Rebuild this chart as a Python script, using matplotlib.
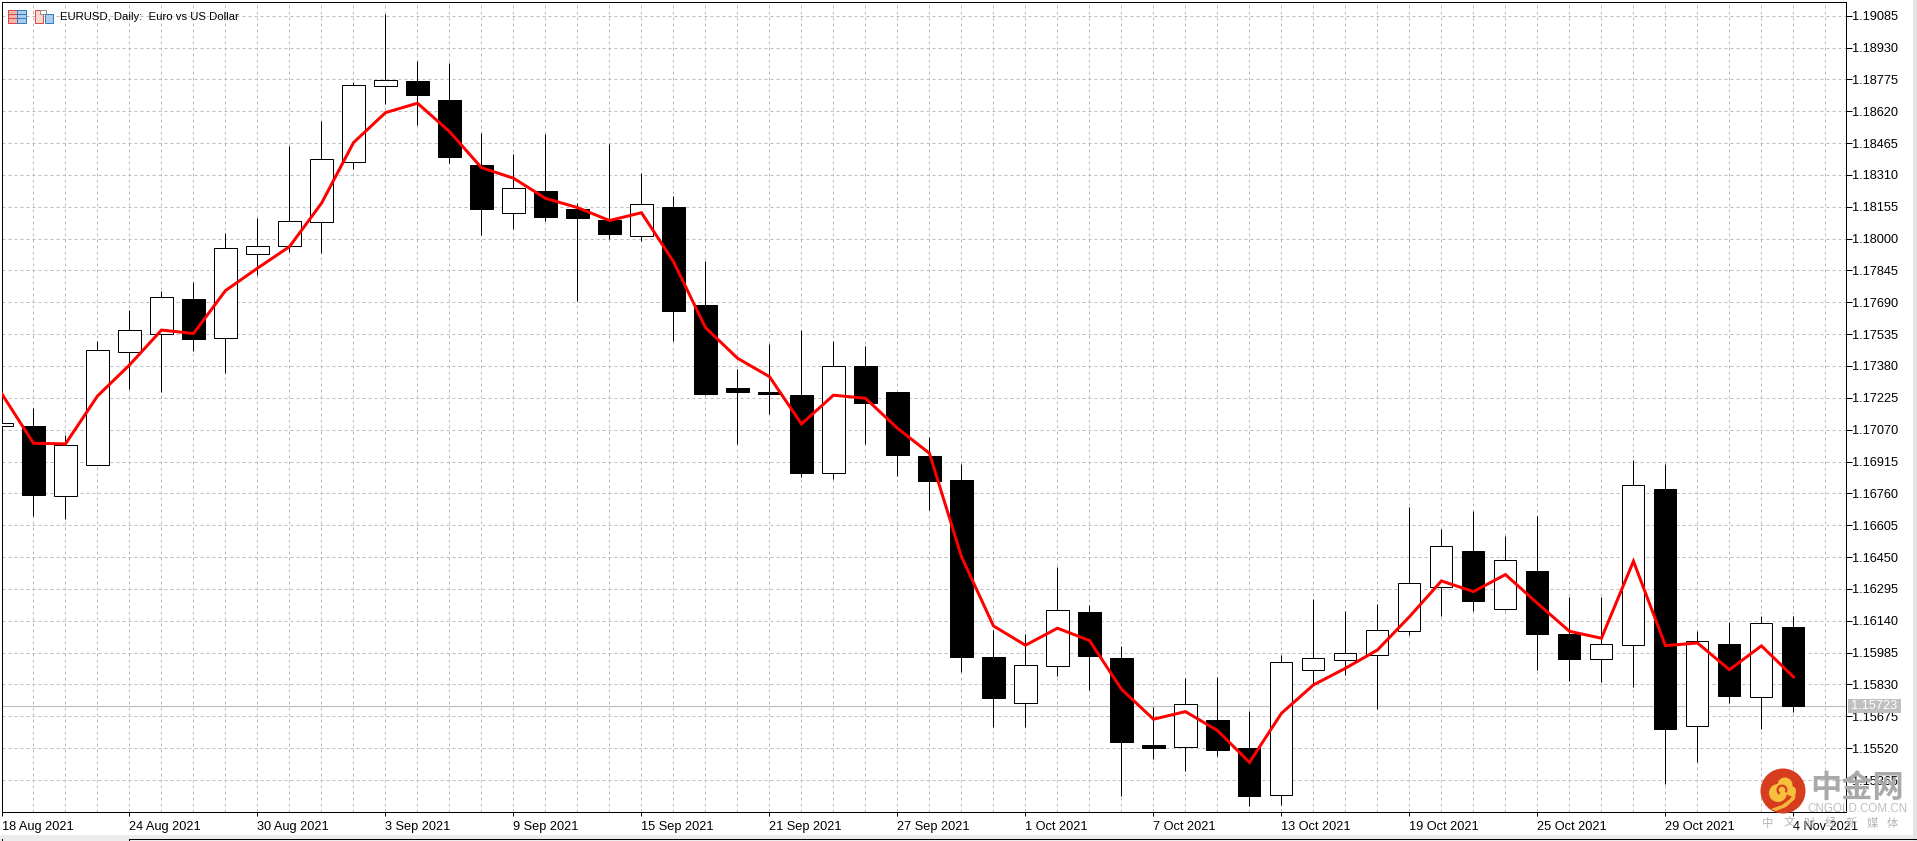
import matplotlib
matplotlib.use('Agg')
import matplotlib.pyplot as plt
from matplotlib.patches import Circle, Polygon, Rectangle, Wedge

WIDTH = 1917
HEIGHT = 841
PX = 0.72  # one pixel in points at dpi 100

tick_prices = [1.19085, 1.18930, 1.18775, 1.18620, 1.18465, 1.18310, 1.18155, 1.18000,
               1.17845, 1.17690, 1.17535, 1.17380, 1.17225, 1.17070, 1.16915, 1.16760,
               1.16605, 1.16450, 1.16295, 1.16140, 1.15985, 1.15830, 1.15675, 1.15520, 1.15365]

date_labels = ['18 Aug 2021', '24 Aug 2021', '30 Aug 2021', '3 Sep 2021', '9 Sep 2021',
               '15 Sep 2021', '21 Sep 2021', '27 Sep 2021', '1 Oct 2021', '7 Oct 2021',
               '13 Oct 2021', '19 Oct 2021', '25 Oct 2021', '29 Oct 2021', '4 Nov 2021']

opens = [1.17087, 1.17088, 1.16749, 1.16897, 1.17447, 1.17534, 1.17706, 1.17515, 1.17924, 1.17963,
         1.18079, 1.18371, 1.18741, 1.18767, 1.18675, 1.18358, 1.18123, 1.18232, 1.18144, 1.18091,
         1.18011, 1.18154, 1.17677, 1.17273, 1.17254, 1.17239, 1.16858, 1.17380, 1.17254, 1.16942,
         1.16825, 1.15964, 1.15739, 1.15919, 1.16183, 1.15959, 1.15536, 1.15524, 1.15657, 1.15520,
         1.15291, 1.15899, 1.15948, 1.15972, 1.16089, 1.16303, 1.16480, 1.16196, 1.16383, 1.16076,
         1.15953, 1.16021, 1.16782, 1.15627, 1.16027, 1.15768, 1.16110]

highs = [1.17104, 1.17176, 1.17044, 1.17502, 1.17653, 1.17745, 1.17789, 1.18027, 1.18101, 1.18451,
         1.18572, 1.18761, 1.19092, 1.18865, 1.18855, 1.18514, 1.18412, 1.18509, 1.18172, 1.18461,
         1.18318, 1.18208, 1.17891, 1.17367, 1.17487, 1.17555, 1.17504, 1.17479, 1.17254, 1.17036,
         1.16903, 1.16095, 1.16074, 1.16404, 1.16217, 1.16018, 1.15722, 1.15864, 1.15867, 1.15703,
         1.15974, 1.16246, 1.16190, 1.16222, 1.16696, 1.16587, 1.16675, 1.16553, 1.16650, 1.16258,
         1.16258, 1.16923, 1.16903, 1.16091, 1.16136, 1.16164, 1.16164]

lows = [1.17087, 1.16650, 1.16634, 1.16897, 1.17268, 1.17254, 1.17453, 1.17348, 1.17823, 1.17937,
        1.17932, 1.18339, 1.18654, 1.18553, 1.18370, 1.18018, 1.18047, 1.18088, 1.17697, 1.17998,
        1.17990, 1.17502, 1.17239, 1.17001, 1.17147, 1.16842, 1.16830, 1.17001, 1.16845, 1.16679,
        1.15893, 1.15625, 1.15625, 1.15872, 1.15803, 1.15288, 1.15468, 1.15409, 1.15484, 1.15239,
        1.15244, 1.15828, 1.15876, 1.15713, 1.16073, 1.16164, 1.16188, 1.16191, 1.15901, 1.15847,
        1.15841, 1.15816, 1.15346, 1.15453, 1.15740, 1.15612, 1.15695]

closes = [1.17104, 1.16754, 1.16994, 1.17456, 1.17554, 1.17714, 1.17513, 1.17953, 1.17963, 1.18084,
          1.18386, 1.18746, 1.18770, 1.18701, 1.18399, 1.18146, 1.18245, 1.18107, 1.18102, 1.18024,
          1.18167, 1.17650, 1.17246, 1.17255, 1.17246, 1.16861, 1.17379, 1.17202, 1.16949, 1.16822,
          1.15966, 1.15766, 1.15924, 1.16191, 1.15971, 1.15552, 1.15521, 1.15734, 1.15513, 1.15289,
          1.15938, 1.15958, 1.15982, 1.16094, 1.16323, 1.16503, 1.16238, 1.16435, 1.16078, 1.15956,
          1.16026, 1.16800, 1.15615, 1.16040, 1.15776, 1.16128, 1.15723]

ma_values = [1.17247, 1.17004, 1.17001, 1.17234, 1.17385, 1.17555, 1.17538, 1.17747, 1.17856, 1.17961,
             1.18172, 1.18467, 1.18613, 1.18659, 1.18521, 1.18345, 1.18294, 1.18196, 1.18151, 1.18088,
             1.18126, 1.17888, 1.17567, 1.17418, 1.17328, 1.17098, 1.17238, 1.17223, 1.17077, 1.16955,
             1.16452, 1.16115, 1.16021, 1.16104, 1.16044, 1.15807, 1.15661, 1.15698, 1.15606, 1.15451,
             1.15690, 1.15828, 1.15909, 1.15998, 1.16160, 1.16334, 1.16282, 1.16365, 1.16225, 1.16089,
             1.16055, 1.16430, 1.16019, 1.16032, 1.15902, 1.16018, 1.15867]

bid_price = 1.15723

plt.rcParams['font.family'] = ['Liberation Sans', 'DejaVu Sans']

fig = plt.figure(figsize=(WIDTH / 100, HEIGHT / 100), dpi=100, facecolor='white')
ax = fig.add_axes([1.5 / WIDTH, 1 - 812.3 / HEIGHT, (1845.6 - 1.5) / WIDTH, (812.3 - 2.3) / HEIGHT])
ax.set_xlim(0, 57.63)
ax.set_ylim(1.15208, 1.19150)

x = list(range(len(opens)))

# grid on every candle, labels only on every fourth
ax.set_axisbelow(True)
ax.set_xticks(range(58), minor=True)
ax.set_xticks(x[::4])
ax.set_xticklabels(date_labels, ha='left', fontsize=9.2)
ax.yaxis.tick_right()
ax.set_yticks(tick_prices)
ax.set_yticklabels(['%.5f' % p for p in tick_prices], fontsize=9.2)
ax.tick_params(axis='x', which='major', length=3, width=PX, pad=3)
ax.tick_params(axis='x', which='minor', length=0)
ax.tick_params(axis='y', length=4.3, width=PX, pad=0.5)
ax.grid(True, which='both', color='#bcbcbc', linewidth=PX, linestyle=(0, (3, 3)))
for spine in ax.spines.values():
    spine.set_linewidth(PX)
    spine.set_color('black')

ax.axhline(bid_price, color='#c0c0c0', linewidth=PX * 1.2, zorder=1.8)

ax.vlines(x, lows, highs, color='black', linewidth=PX, zorder=2)
for i in x:
    up = closes[i] >= opens[i]
    ax.bar(i, abs(closes[i] - opens[i]), bottom=min(opens[i], closes[i]), width=0.69,
           facecolor='white' if up else 'black', edgecolor='black', linewidth=PX, zorder=3)

ax.plot(x, ma_values, color='#ff0000', linewidth=PX * 3, solid_joinstyle='miter', zorder=4)

# last price flag on the axis
price_axis = ax.get_yaxis_transform()
ax.add_patch(Rectangle((1.0011, bid_price - 0.00034), 0.0292, 0.00068, transform=price_axis,
                       facecolor='#c0c0c0', edgecolor='none', clip_on=False, zorder=9))
ax.text(1.0157, bid_price, '%.5f' % bid_price, transform=price_axis,
        color='white', fontsize=9.2, va='center', ha='center', zorder=10)

# overlay in pixel coordinates for window furniture and the watermark
over = fig.add_axes([0, 0, 1, 1], facecolor='none')
over.set_xlim(0, WIDTH)
over.set_ylim(HEIGHT, 0)
over.axis('off')

over.text(60, 16.5, 'EURUSD, Daily:  Euro vs US Dollar', fontsize=8.2, va='center', ha='left', color='black')

over.add_patch(Rectangle((7.5, 9.5), 9, 13, facecolor='#f6b5ae', edgecolor='#e0483c', linewidth=PX))
over.add_patch(Rectangle((16.5, 9.5), 9, 13, facecolor='#a9cdea', edgecolor='#2f7fc0', linewidth=PX))
for row_y in (13.5, 17.5):
    over.plot([8, 16], [row_y, row_y], color='#e0483c', linewidth=PX)
    over.plot([17, 25], [row_y, row_y], color='#2f7fc0', linewidth=PX)
over.add_patch(Rectangle((34.5, 9.5), 8, 13, facecolor='#fbd5cf', edgecolor='#e0483c', linewidth=PX))
over.add_patch(Rectangle((44.5, 13.5), 8, 9, facecolor='#a9cdea', edgecolor='#2f7fc0', linewidth=PX))
over.add_patch(Rectangle((39.5, 9.5), 6, 4, facecolor='white', edgecolor='#909090', linewidth=PX))

# bottom and right window edge
over.add_patch(Rectangle((0, 835), WIDTH, 6, facecolor='#ececec', edgecolor='none'))
over.add_patch(Rectangle((1913, 0), 4, HEIGHT, facecolor='#e4e4e4', edgecolor='none'))
over.plot([128.5, WIDTH], [838.5, 838.5], color='black', linewidth=PX)
over.plot([128.5, 128.5], [838.5, HEIGHT], color='black', linewidth=PX)
over.plot([1.5, 1.5], [838.5, HEIGHT], color='black', linewidth=PX)

# watermark
over.add_patch(Circle((1783, 791), 22.5, facecolor='#d63c1e', edgecolor='none'))
over.add_patch(Polygon([(1771, 809), (1782, 805), (1790, 799), (1796, 789), (1795, 799),
                        (1786, 807), (1776, 811)], facecolor='#f4b63a', edgecolor='none'))
for cx, cy, r in [(1778, 793, 9), (1785, 785, 7.5), (1791, 791, 5)]:
    over.add_patch(Circle((cx, cy), r, facecolor='#f6bf3c', edgecolor='none'))
over.add_patch(Wedge((1782, 790), 5.5, 120, 390, width=2.2, facecolor='#d63c1e', edgecolor='none'))

cjk = ['Noto Sans CJK SC', 'DejaVu Sans']
over.text(1857.5, 788, '中金网', family=cjk, fontsize=22.5, fontweight='bold', color='#a9a9a9',
          ha='center', va='center')
over.text(1857, 809, 'CNGOLD.COM.CN', fontsize=8.4, color='#c0c0c0', ha='center', va='center')
for k, ch in enumerate('中文财经新媒体'):
    over.text(1768 + 20.8 * k, 823, ch, family=cjk, fontsize=8.2, color='#b4b4b4', ha='center', va='center')

fig.savefig('out.png', dpi=100)
